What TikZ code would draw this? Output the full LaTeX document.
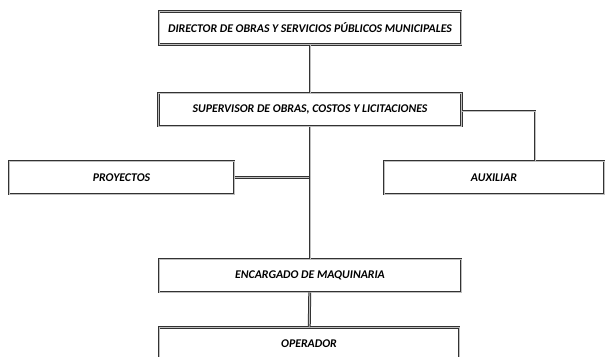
\documentclass[tikz,border=0pt]{standalone}
\usepackage{fontspec}
\setmainfont{Carlito}[BoldFont={* Bold}, ItalicFont={* Italic}, BoldItalicFont={* Bold Italic}]
\usepackage{tikz}
\usetikzlibrary{positioning}
\usetikzlibrary{calc}
\tikzset{
    cargo/.style={draw=black!80, double=black!25, double distance=0.9pt, line width=1pt, fill=white, inner sep=0pt, minimum height=33pt, font=\bfseries\itshape\fontsize{11.8}{13}\selectfont},
    enlace/.style={draw=black!80, double=black!25, double distance=0.9pt, line width=1pt}
}
\begin{document}
\begin{tikzpicture}[x=1pt,y=-1pt]
        \useasboundingbox (0,0) rectangle (607,356);
        \clip (0,0) rectangle (607,356);
        \node[cargo, minimum width=302pt] (director) at (310,28) {DIRECTOR DE OBRAS Y SERVICIOS PÚBLICOS MUNICIPALES};
        \node[cargo, minimum width=303pt] (supervisor) at (310,109.5) {SUPERVISOR DE OBRAS, COSTOS Y LICITACIONES};
        \node[cargo, minimum width=225pt] (proyectos) at (121.5,177.5) {PROYECTOS};
        \node[cargo, minimum width=220pt] (auxiliar) at (494,177.5) {AUXILIAR};
        \node[cargo, minimum width=302pt] (encargado) at (310,275.5) {ENCARGADO DE MAQUINARIA};
        \node[cargo, minimum width=300pt] (operador) at (309,344) {OPERADOR};
        \coordinate (codo) at ($(auxiliar.north)+(41,0)$);
        \draw[enlace] (director) -- (supervisor);
        \draw[enlace] (supervisor) -- (encargado);
        \draw[enlace] (encargado) -- (operador);
        \draw[enlace, shorten >=1.4pt] (proyectos.east) -- (proyectos.east -| supervisor.south);
        \draw[enlace] ([yshift=-1.5pt]supervisor.east) -| (codo);
\end{tikzpicture}
\end{document}
